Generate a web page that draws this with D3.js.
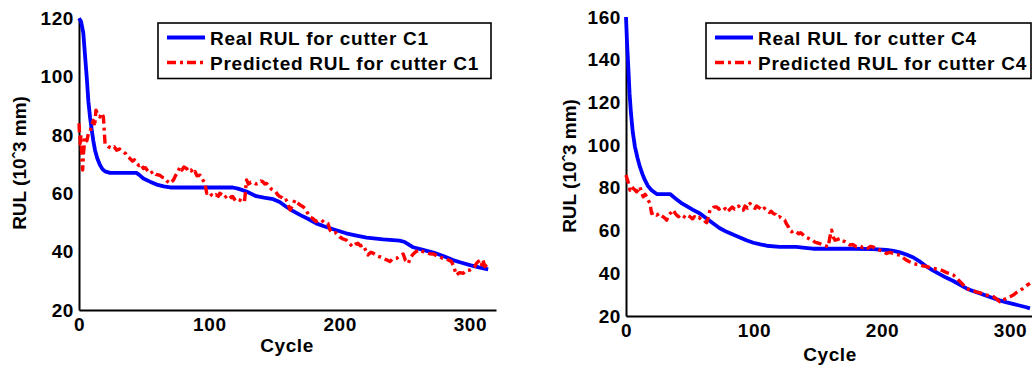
<!DOCTYPE html>
<html>
<head>
<meta charset="utf-8">
<script src="https://cdn.jsdelivr.net/npm/d3@7"></script>
<style>
  html, body { margin: 0; padding: 0; background: #fff; }
  svg { display: block; }
  text { font-family: "Liberation Sans", Arial, sans-serif; font-weight: bold; fill: #000; }
</style>
</head>
<body>
<svg id="chart" width="1032" height="365"></svg>
<script>
// ---------- DATA ----------
const xTicks = [0, 100, 200, 300];
const yTicksC1 = [20, 40, 60, 80, 100, 120];
const yTicksC4 = [20, 40, 60, 80, 100, 120, 140, 160];

const legendC1 = ["Real RUL for cutter C1", "Predicted RUL for cutter C1"];
const legendC4 = ["Real RUL for cutter C4", "Predicted RUL for cutter C4"];
const xLabel = "Cycle";
const yLabel = "RUL (10ˆ3 mm)";

// [cycle, RUL]
const realC1 = [[0,120],[1.5,119],[3.3,115],[4.5,108],[5.9,100],[7.2,91.5],[8.5,86],[9.7,82],[11,78],[12.3,74.8],[14,72],[16,69.8],[18,68.3],[20,67.5],[23.8,67],[44,67],[46,66.4],[49.4,65.1],[54.5,64],[59.6,63],[65,62.4],[70,62],[118,62],[122,61.6],[128.6,60.6],[136,59],[142,58.5],[149,58],[154,57],[159,55.4],[164,54],[169.6,52.6],[176,51.2],[182,49.7],[188,48.7],[195,47.7],[205,46.3],[212,45.6],[220.7,44.8],[233.5,44.2],[246,43.8],[250,43.3],[256.5,41.5],[264,40.6],[272,39.7],[280,38.4],[287,37.1],[293,36.3],[300,35.4],[307,34.6],[314,33.9]];

const predC1 = [[0,84],[0.8,77],[1.5,80],[2.2,72],[2.8,68],[3.5,74],[4.6,79.4],[6,78],[7.2,80.5],[8.5,81],[9.7,83.4],[11,85],[12,83],[13,88.5],[14.5,87],[16,86.2],[17.5,87.5],[18.7,86.2],[20,77],[22.5,76],[25,75.5],[27,76],[28.9,74.8],[31,75.2],[34,74.2],[36,73.5],[37.5,72.5],[39,72],[41,71],[42.5,71.5],[44.3,70.2],[46,69.5],[47.5,70],[49.4,68.5],[51,68.8],[53,67.5],[54.5,66.8],[57,67.5],[59,66.5],[62,66.2],[64,65.5],[66,65.2],[68,64],[69.8,63.4],[71,64],[72.4,64.5],[74,66],[76,67.5],[77.5,69],[79,68],[80.5,69],[82.6,68.5],[84,67.5],[86,68],[87.7,66.8],[89,67.5],[90.5,66],[92.9,66.2],[94.5,65],[96.7,63.4],[98,60],[100,60.5],[101.5,59.5],[103,58.9],[105,59.5],[107,59],[108,60],[110,59.5],[111.5,58.5],[113,58.9],[115,59.6],[117,58.5],[118,58.9],[120,57.5],[121.5,58],[123.5,57.7],[125,57.2],[127,57.1],[128,62],[128.6,64.6],[130,63.2],[132,63.8],[134,63.7],[136,63.2],[138,63.5],[139.5,64.2],[141,64],[142.5,63.2],[144,63.4],[146,62.2],[147.5,61.5],[149,61.1],[151,60.5],[152.5,59.5],[154,58.9],[156,58.5],[157.5,57.5],[159,57.7],[160.5,56],[162,54.3],[163.5,55.5],[165.7,57.7],[167,57],[169.6,56],[172,55.4],[174,54.5],[175.5,53.2],[177,52],[179,51.5],[182,50.3],[184,50.8],[186,50.9],[188,50],[191,49.7],[192.6,47.4],[195,46.3],[197,46.5],[200,45.1],[202,44.5],[205,44],[207,43],[210,41.7],[212,42.5],[214,42.9],[216,42],[218,42.3],[220,40.5],[221.8,38.9],[224,39.8],[226,39.4],[229,38.5],[231,38.2],[233.5,37.7],[236,37.2],[238.6,36.6],[240.5,37.5],[243.7,37.7],[246,38.5],[248.8,39.2],[250.5,37],[252.7,36],[254.5,38],[256.5,39.2],[258.5,40],[261.6,40.6],[264,40],[266.8,39.7],[269,39.3],[272,39.2],[275,38.5],[277,38.2],[279.3,37.7],[282,37.5],[285.8,36.6],[287.5,35],[289.6,32],[292,32.8],[294.9,32.6],[297,33.5],[300,33.7],[302,34.2],[303.8,34.9],[305,36],[306.3,36.6],[308,37],[309,35.5],[310,37.2],[311.4,34.9],[313,35.6],[314,35.4]];

const realC4 = [[0,160],[0.8,148],[1.8,136.6],[2.8,124],[3.9,114.8],[5.3,106],[7,99.2],[9,94],[10.9,89.8],[12.8,86.5],[14.8,83.6],[17,81],[20,78.9],[24,77.1],[34.4,77.1],[37,75.8],[39.6,74.6],[43,73],[47.4,71.4],[52,69.8],[57.8,68],[63,65.6],[68.2,63.3],[73,61.2],[78.6,59.4],[84,58],[89,56.8],[94,55.5],[99.5,54.3],[105,53.5],[110,52.9],[120,52.4],[133,52.4],[140,51.9],[146,51.5],[177.6,51.5],[193,51.3],[203.6,50.9],[209,50.5],[214,49.8],[219,48.8],[224.5,47.4],[230,45.3],[235,43.1],[240,41.3],[245,39.6],[250,38],[255.7,36.4],[261,34.6],[266,32.9],[271,31.7],[276.6,30.6],[282,29.4],[287,28.3],[292,27.3],[297.4,26.4],[303,25.6],[308,24.8],[312,24.2],[315.6,23.6]];

const predC4 = [[0,86],[0.8,84.4],[2,82],[3.1,78.9],[4.5,80.5],[5.7,79.7],[7,79],[8.3,78.2],[9.5,79],[10.9,80.5],[12,78],[13.5,75.8],[15,77],[16.1,75.8],[17.5,74],[18.75,72.7],[20,68],[22,68.5],[24,67.2],[26,68],[28,66.8],[29,66.5],[31,65.5],[31.8,64.9],[33,67],[34.4,68],[35.5,68.5],[37,69.6],[38.5,68],[39.6,67.2],[41,66.5],[43,67.5],[44.8,66.8],[46.5,66],[48,67],[50,66.5],[52,65.5],[53.5,66.5],[55.2,65.7],[57,66.2],[59,65],[61,64.9],[62,64.2],[63,63.7],[64.5,66.5],[65.6,69.6],[67,70],[68.5,71],[70.8,71.1],[72.5,70],[74,70.5],[76,69.6],[77.5,70.3],[79,68.8],[81,69.9],[83,71],[85,70],[86.5,70.4],[88,71.5],[90,69.5],[91.7,69.6],[93,71.5],[95,70.5],[96.9,72.7],[98.5,71.5],[100.8,70.4],[102,71.5],[104.7,70.4],[106.5,69.5],[108,70.5],[110,69.6],[112,68.5],[113.5,69],[115,68],[117,67.5],[118.5,66.2],[120,66.5],[122,65.5],[124,64.9],[125.5,63],[126.8,61.8],[128,60],[129.4,59.4],[131,60],[133,59.4],[135,58.5],[136.5,59],[138.5,57.9],[140,57],[142,56.5],[143.8,55.9],[146,55.5],[147.5,54.6],[149,54.3],[151,54],[152.5,53.6],[154,53.2],[156,52.8],[158,52.4],[159,56],[160,59],[160.7,60.2],[161.8,57],[163.3,55.5],[165,55.8],[167.2,56.3],[169,55.2],[171,54.8],[173,54],[175,53.2],[177,53.5],[180,52.4],[182.5,52.8],[185,52.1],[187,52.5],[189,51.8],[191,52.6],[193,52.4],[195,51.5],[198,50.9],[200,50.5],[203.6,49.3],[206,49.8],[209,49.3],[211,48.8],[214,48.5],[216,47.5],[219,46.2],[221,45.5],[224.5,44.6],[227,44.2],[229.7,43.9],[232,43.5],[235,43.1],[237.5,42.6],[240,42.3],[242.5,42],[245,41.8],[247.5,41.2],[250.5,40.3],[253,39.8],[255.7,39.2],[258,38],[261,36.1],[263.5,34.5],[266,32.9],[268.5,32.3],[271.4,31.8],[274,31.2],[276.6,30.9],[279,30.3],[281.8,29.8],[284.5,29.3],[287,29],[289.5,28],[292,26.7],[294.5,27.5],[297.4,28.3],[300,29],[302.6,29.8],[305,31],[308,32.2],[310,32.8],[311.7,33.7],[313.5,34.5],[315.6,35.3]];

// ---------- DRAW ----------
const svg = d3.select("#chart");
const BLUE = "#0000ff", RED = "#ff0000";
const DASH = "9,4,3,4";

function panel(cfg) {
  const x = d3.scaleLinear().domain([0, 320]).range([cfg.left, cfg.right]);
  const y = d3.scaleLinear().domain(cfg.yDomain).range([cfg.bottom, cfg.top]);
  const g = svg.append("g");

  // axes
  const xa = g.append("g").attr("transform", `translate(0,${cfg.bottom})`)
    .call(d3.axisBottom(x).tickValues(xTicks).tickSize(0).tickPadding(8).tickSizeOuter(0));
  const ya = g.append("g").attr("transform", `translate(${cfg.left},0)`)
    .call(d3.axisLeft(y).tickValues(cfg.yTicks).tickSize(0).tickPadding(5).tickSizeOuter(0));
  [xa, ya].forEach(a => {
    a.select(".domain").attr("stroke", "#000").attr("stroke-width", 2);
    a.selectAll("text").attr("font-size", 19).attr("letter-spacing", "0.6px")
      .attr("font-family", "Liberation Sans, Arial, sans-serif").attr("font-weight", "bold").attr("fill", "#000");
  });

  const line = d3.line().x(d => x(d[0])).y(d => y(d[1]));
  g.append("path").datum(cfg.real).attr("d", line)
    .attr("fill", "none").attr("stroke", BLUE).attr("stroke-width", 3.8).attr("stroke-linejoin", "round");
  g.append("path").datum(cfg.pred).attr("d", line)
    .attr("fill", "none").attr("stroke", RED).attr("stroke-width", 3.4)
    .attr("stroke-dasharray", DASH).attr("stroke-linejoin", "round");

  // axis titles
  g.append("text").attr("x", cfg.xLabelX).attr("y", cfg.xLabelY)
    .attr("text-anchor", "middle").attr("font-size", 19).attr("letter-spacing", "0.6px").text(xLabel);
  g.append("text").attr("transform", `translate(${cfg.yLabelX},${cfg.yLabelY}) rotate(-90)`)
    .attr("text-anchor", "middle").attr("font-size", 19).text(yLabel);

  // legend
  const lg = g.append("g");
  lg.append("rect").attr("x", cfg.lgLeft).attr("y", 23).attr("width", cfg.lgWidth).attr("height", 55.5)
    .attr("fill", "#fff").attr("stroke", "#000").attr("stroke-width", 1.6);
  const rows = [{c: BLUE, w: 3.8, d: null, t: cfg.legend[0], y: 37.5},
                {c: RED, w: 3.4, d: DASH, t: cfg.legend[1], y: 62.5}];
  rows.forEach(r => {
    lg.append("line").attr("x1", cfg.lgLeft + 9).attr("x2", cfg.lgLeft + 47)
      .attr("y1", r.y).attr("y2", r.y).attr("stroke", r.c).attr("stroke-width", r.w)
      .attr("stroke-dasharray", r.d);
    lg.append("text").attr("x", cfg.lgLeft + 52).attr("y", r.y + 7)
      .attr("font-size", 19).attr("letter-spacing", "0.75px").text(r.t);
  });
}

panel({left: 79, right: 496, top: 18.3, bottom: 310, yDomain: [20, 120], yTicks: yTicksC1,
  real: realC1, pred: predC1, legend: legendC1,
  xLabelX: 287, xLabelY: 352, yLabelX: 26, yLabelY: 163,
  lgLeft: 158, lgWidth: 333});

panel({left: 626, right: 1035.6, top: 17, bottom: 316, yDomain: [20, 160], yTicks: yTicksC4,
  real: realC4, pred: predC4, legend: legendC4,
  xLabelX: 830, xLabelY: 361, yLabelX: 576, yLabelY: 166,
  lgLeft: 706, lgWidth: 325});
</script>
</body>
</html>
